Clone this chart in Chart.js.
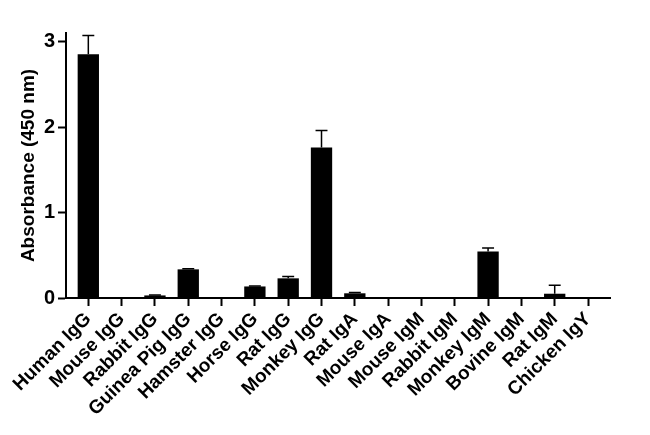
<!DOCTYPE html>
<html lang="en">
<head>
    <meta charset="UTF-8">
    <title>Absorbance by immunoglobulin</title>
    <script src="https://cdn.jsdelivr.net/npm/chart.js"></script>
    <style>
        html, body { margin: 0; padding: 0; background: #fff; }
        .chart-container { position: relative; width: 650px; height: 435px; }
    </style>
</head>
<body>
    <div class="chart-container">
        <canvas id="absChart"></canvas>
    </div>

    <script>
        // values
        const categories = ['Human IgG', 'Mouse IgG', 'Rabbit IgG', 'Guinea Pig IgG', 'Hamster IgG',
            'Horse IgG', 'Rat IgG', 'Monkey IgG', 'Rat IgA', 'Mouse IgA', 'Mouse IgM',
            'Rabbit IgM', 'Monkey IgM', 'Bovine IgM', 'Rat IgM', 'Chicken IgY'];
        const absorbance = [2.85, 0.01, 0.03, 0.335, 0.01, 0.135, 0.23, 1.76,
            0.055, 0, 0, 0.005, 0.545, 0.01, 0.05, 0];
        const errPlus = [0.22, 0, 0.005, 0.006, 0, 0.005, 0.022, 0.2,
            0.008, 0, 0, 0, 0.04, 0, 0.1, 0];
        const yTicks = [0, 1, 2, 3];

        const FONT = "'Liberation Sans', Arial, sans-serif";

        // upper error bars with caps
        const errorBars = {
            id: 'errorBars',
            afterDatasetsDraw(chart) {
                const meta = chart.getDatasetMeta(0);
                const y = chart.scales.y;
                const ctx = chart.ctx;
                ctx.save();
                ctx.strokeStyle = '#000';
                ctx.lineWidth = 1.5;
                meta.data.forEach((bar, i) => {
                    const e = errPlus[i];
                    if (!e) return;
                    const top = y.getPixelForValue(absorbance[i] + e);
                    const cap = bar.width * 0.28;
                    ctx.beginPath();
                    ctx.moveTo(bar.x, bar.y);
                    ctx.lineTo(bar.x, top);
                    ctx.moveTo(bar.x - cap, top);
                    ctx.lineTo(bar.x + cap, top);
                    ctx.stroke();
                });
                ctx.restore();
            }
        };

        new Chart(document.getElementById('absChart'), {
            type: 'bar',
            data: {
                datasets: [{
                    data: absorbance.map((v, i) => ({ x: i, y: v })),
                    backgroundColor: '#000',
                    borderWidth: 0,
                    categoryPercentage: 1,
                    barPercentage: 0.64
                }]
            },
            options: {
                responsive: true,
                maintainAspectRatio: false,
                animation: false,
                layout: { padding: { top: 33, right: 40, bottom: 0, left: 0 } },
                plugins: {
                    legend: { display: false },
                    tooltip: { enabled: false }
                },
                scales: {
                    x: {
                        type: 'linear',
                        offset: false,
                        min: -0.67,
                        max: 15.66,
                        afterBuildTicks: s => { s.ticks = categories.map((c, i) => ({ value: i })); },
                        afterFit: s => { s.height = 137; },
                        border: { display: true, color: '#000', width: 2 },
                        grid: {
                            offset: false,
                            drawOnChartArea: false,
                            drawTicks: true,
                            tickLength: 8,
                            tickColor: '#000',
                            tickWidth: 2
                        },
                        ticks: {
                            stepSize: 1,
                            autoSkip: false,
                            minRotation: 45,
                            maxRotation: 45,
                            padding: 2,
                            color: '#000',
                            font: { family: FONT, size: 19, weight: 'bold' },
                            callback: v => categories[v]
                        }
                    },
                    y: {
                        min: 0,
                        max: 3.1,
                        afterBuildTicks: s => { s.ticks = yTicks.map(v => ({ value: v })); },
                        afterFit: s => { s.width = 66; },
                        border: { display: true, color: '#000', width: 2 },
                        grid: {
                            drawOnChartArea: false,
                            drawTicks: true,
                            tickLength: 8,
                            tickColor: '#000',
                            tickWidth: 2
                        },
                        ticks: {
                            padding: 3,
                            color: '#000',
                            font: { family: FONT, size: 20, weight: 'bold' }
                        },
                        title: {
                            display: true,
                            text: 'Absorbance (450 nm)',
                            color: '#000',
                            padding: { top: 17, bottom: 0 },
                            font: { family: FONT, size: 19, weight: 'bold' }
                        }
                    }
                }
            },
            plugins: [errorBars]
        });
    </script>
</body>
</html>
